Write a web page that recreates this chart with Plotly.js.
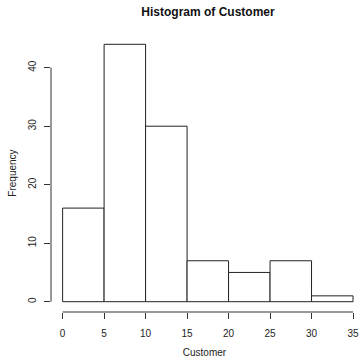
<!DOCTYPE html>
<html>
<head>
<meta charset="utf-8">
<script src="https://cdn.plot.ly/plotly-3.0.1.min.js"></script>
<style>html,body{margin:0;padding:0;background:#fff;}#chart{width:359px;height:358px;}</style>
</head>
<body>
<div id="chart"></div>
<script>
// Data
const binEdges = [0, 5, 10, 15, 20, 25, 30, 35];
const counts = [16, 44, 30, 7, 5, 7, 1];
const xTicks = [0, 5, 10, 15, 20, 25, 30, 35];
const yTicks = [0, 10, 20, 30, 40];
const chartTitle = "Histogram of Customer";
const xLabel = "Customer";
const yLabel = "Frequency";

const centers = counts.map((c, i) => (binEdges[i] + binEdges[i + 1]) / 2);
const widths = counts.map((c, i) => binEdges[i + 1] - binEdges[i]);

const font = "Liberation Sans, Arial, Helvetica, sans-serif";
const axisColor = "#333";

const trace = {
  type: "bar",
  x: centers,
  y: counts,
  width: widths,
  marker: { color: "#ffffff", line: { color: "#222", width: 1 } },
  hoverinfo: "skip"
};

const layout = {
  width: 359,
  height: 358,
  margin: { l: 51, r: 1, t: 34, b: 46 },
  paper_bgcolor: "#fff",
  plot_bgcolor: "#fff",
  showlegend: false,
  font: { family: font, size: 10, color: "#222" },
  title: {
    text: "<b>" + chartTitle + "</b>",
    font: { family: font, size: 12, color: "#111" },
    xref: "container", x: 208 / 359, xanchor: "center",
    yref: "container", y: 1 - 12 / 358, yanchor: "middle"
  },
  xaxis: {
    range: [-1.4, 35.6],
    tickvals: xTicks,
    ticktext: xTicks.map(String),
    ticks: "outside",
    ticklen: 6,
    tickcolor: axisColor,
    tickwidth: 1,
    showline: false,
    showgrid: false,
    zeroline: false,
    ticklabelstandoff: 6,
    ticklabeloverflow: "allow",
    tickfont: { family: font, size: 10, color: "#222" },
    title: { text: xLabel, font: { family: font, size: 10, color: "#222" }, standoff: 12 },
    automargin: false,
    fixedrange: true
  },
  yaxis: {
    range: [-1.76, 45.76],
    tickvals: yTicks,
    ticktext: yTicks.map(String),
    tickangle: -90,
    ticks: "outside",
    ticklen: 6,
    tickcolor: axisColor,
    tickwidth: 1,
    showline: false,
    showgrid: false,
    zeroline: false,
    ticklabelstandoff: 4,
    ticklabeloverflow: "allow",
    tickfont: { family: font, size: 10, color: "#222" },
    title: { text: yLabel, font: { family: font, size: 10, color: "#222" }, standoff: 8 },
    automargin: false,
    fixedrange: true
  },
  shapes: [
    { type: "line", xref: "x", yref: "paper", x0: xTicks[0], x1: xTicks[xTicks.length - 1], y0: 0, y1: 0,
      line: { color: axisColor, width: 1 } },
    { type: "line", xref: "paper", yref: "y", x0: 0, x1: 0, y0: yTicks[0], y1: yTicks[yTicks.length - 1],
      line: { color: axisColor, width: 1 } }
  ]
};

Plotly.newPlot("chart", [trace], layout, { displayModeBar: false, staticPlot: true });
</script>
</body>
</html>
